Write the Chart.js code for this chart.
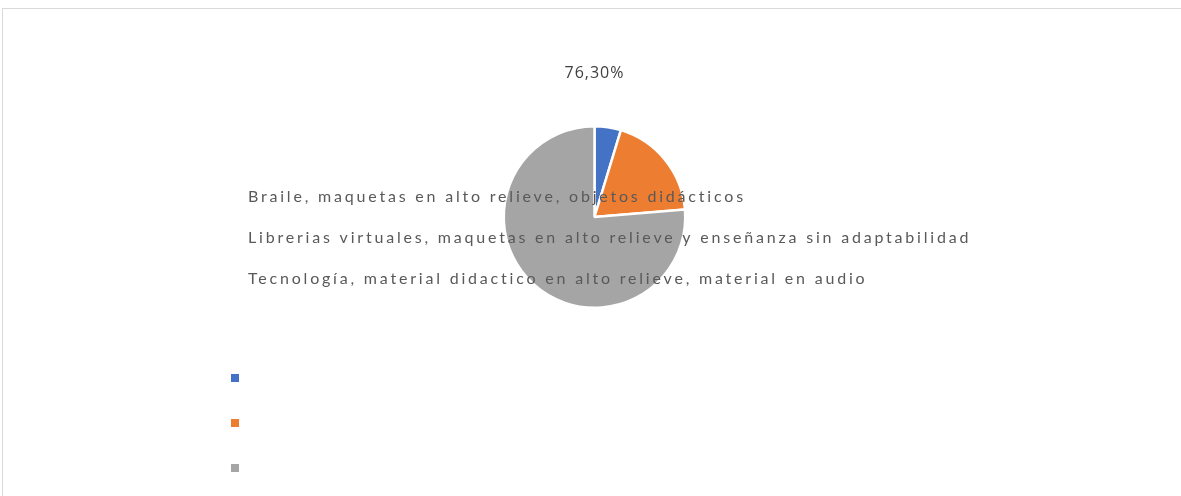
<!DOCTYPE html>
<html>
<head>
<meta charset="utf-8">
<script src="https://cdn.jsdelivr.net/npm/chart.js@4/dist/chart.umd.min.js"></script>
<style>
  html, body { margin: 0; padding: 0; background: #fff; }
  #wrap { width: 1181px; height: 496px; position: relative; }
</style>
</head>
<body>
<div id="wrap"><canvas id="pieChart" width="1181" height="496"></canvas></div>
<script>
var categories = [
	"Braile, maquetas en alto relieve, objetos didácticos",
	"Librerias virtuales, maquetas en alto relieve y enseñanza sin adaptabilidad",
	"Tecnología, material didactico en alto relieve, material en audio"
];
var values = [4.7, 19.0, 76.3];
var colors = ["#4472C4", "#ED7D31", "#A5A5A5"];

// frame, category texts over the pie, legend squares and the single data label
var excelLook = {
	id: 'excelLook',
	beforeDraw: function (chart) {
		var ctx = chart.ctx;
		ctx.save();
		ctx.strokeStyle = "#d9d9d9";
		ctx.lineWidth = 1;
		ctx.strokeRect(2.5, 8.5, 1300, 600);
		ctx.restore();
	},
	afterDatasetsDraw: function (chart) {
		var ctx = chart.ctx;
		var area = chart.chartArea;
		var cx = (area.left + area.right) / 2;
		ctx.save();
		ctx.fillStyle = "#595959";
		ctx.font = "16px Lato";
		ctx.textBaseline = "middle";
		ctx.textAlign = "left";
		ctx.letterSpacing = "2.8px";
		for (var i = 0; i < categories.length; i++) {
			ctx.fillText(categories[i], 248, 197 + i * 41);
		}
		ctx.letterSpacing = "0px";
		for (var j = 0; j < colors.length; j++) {
			ctx.fillStyle = colors[j];
			ctx.fillRect(231, 374 + j * 45, 8, 8);
		}
		ctx.fillStyle = "#404040";
		ctx.font = "16px 'Open Sans'";
		ctx.textAlign = "center";
		ctx.letterSpacing = "1px";
		ctx.fillText(values[2].toFixed(2).replace(".", ",") + "%", cx, 73);
		ctx.restore();
	}
};

var ctx = document.getElementById("pieChart");
var pieGraph = new Chart(ctx, {
	type: 'pie',
	data: {
		labels: categories,
		datasets: [{
			data: values,
			backgroundColor: colors,
			borderColor: "#fff",
			borderWidth: 2.5
		}]
	},
	options: {
		responsive: false,
		animation: false,
		layout: { padding: { left: 8, right: 0, top: 125, bottom: 187 } },
		plugins: {
			legend: { display: false },
			tooltip: { enabled: false }
		}
	},
	plugins: [excelLook]
});
</script>
</body>
</html>
